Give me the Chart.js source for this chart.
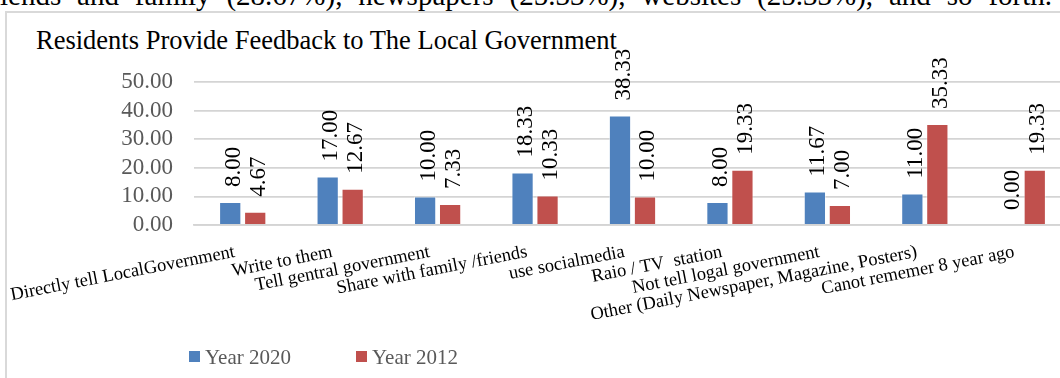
<!DOCTYPE html>
<html>
<head>
<meta charset="utf-8">
<title>Residents Provide Feedback to The Local Government</title>
<script src="https://cdn.jsdelivr.net/npm/chart.js@4.4.1/dist/chart.umd.min.js"></script>
<style>
  html, body { margin: 0; padding: 0; background: #fff; overflow: hidden; }
  body { width: 1060px; height: 378px; position: relative; font-family: "Liberation Serif", "Times New Roman", serif; }
  .para {
    position: absolute; left: 0; top: -19px; width: 1052px;
    font-size: 29px; line-height: 29px; white-space: nowrap;
    text-align: justify; text-align-last: justify; color: #000;
  }
  .frame {
    position: absolute; left: 5px; top: 11px; width: 1100px; height: 400px;
    border-top: 2px solid #d9d9d9; border-left: 2px solid #d9d9d9;
  }
  .title {
    position: absolute; left: 36px; top: 28px;
    font-size: 26.5px; line-height: 25px; color: #000; white-space: nowrap;
  }
  .wrap { position: absolute; left: 0; top: 0; width: 1075px; height: 378px; }
</style>
</head>
<body>
<div class="para">iends and family (28.67%), newspapers (25.33%), websites (25.33%), and so forth.</div>
<div class="frame"></div>
<div class="title">Residents Provide Feedback to The Local Government</div>
<div class="wrap"><canvas id="feedbackChart"></canvas></div>
<script>
const categories = [
    'Directly tell LocalGovernment',
    'Write to them',
    'Tell gentral government',
    'Share with family /friends',
    'use socialmedia',
    'Raio / TV  station',
    'Not tell logal government',
    'Other (Daily Newspaper, Magazine, Posters)',
    'Canot rememer 8 year ago'
];
const year2020 = [8.00, 17.00, 10.00, 18.33, 38.33, 8.00, 11.67, 11.00, 0.00];
const year2012 = [4.67, 12.67, 7.33, 10.33, 10.00, 19.33, 7.00, 35.33, 19.33];
const yMax = 50;
const yStep = 10;

const SERIF = '"Liberation Serif", "Times New Roman", serif';

// value written vertically above each bar
const barValueLabels = {
    id: 'barValueLabels',
    afterDatasetsDraw(chart) {
        const ctx = chart.ctx;
        ctx.save();
        ctx.font = '23px ' + SERIF;
        ctx.fillStyle = '#000';
        ctx.textAlign = 'left';
        ctx.textBaseline = 'alphabetic';
        chart.data.datasets.forEach((ds, i) => {
            chart.getDatasetMeta(i).data.forEach((bar, j) => {
                ctx.save();
                ctx.translate(bar.x, bar.y - 15);
                ctx.rotate(-Math.PI / 2);
                ctx.fillText(ds.data[j].toFixed(2), 0, 9.5);
                ctx.restore();
            });
        });
        ctx.restore();
    }
};

// legend under the plot, squares + series names
const bottomLegend = {
    id: 'bottomLegend',
    afterDraw(chart) {
        const ctx = chart.ctx;
        ctx.save();
        ctx.font = '21px ' + SERIF;
        ctx.textBaseline = 'alphabetic';
        ctx.textAlign = 'left';
        let x = 189;
        const y = 351;
        chart.data.datasets.forEach(ds => {
            ctx.fillStyle = ds.backgroundColor;
            ctx.fillRect(x, y, 11, 11);
            ctx.fillStyle = '#595959';
            ctx.fillText(ds.label, x + 16, y + 13);
            x += 167;
        });
        ctx.restore();
    }
};

const ctx = document.getElementById('feedbackChart').getContext('2d');

const feedbackChart = new Chart(ctx, {
    type: 'bar',
    data: {
        labels: categories,
        datasets: [{
            label: 'Year 2020',
            data: year2020,
            backgroundColor: '#4f81bd',
            borderColor: 'rgba(255,255,255,0.45)',
            borderWidth: 1,
            categoryPercentage: 0.513,
            barPercentage: 0.89
        }, {
            label: 'Year 2012',
            data: year2012,
            backgroundColor: '#c0504d',
            borderColor: 'rgba(255,255,255,0.45)',
            borderWidth: 1,
            categoryPercentage: 0.513,
            barPercentage: 0.89
        }]
    },
    options: {
        responsive: true,
        maintainAspectRatio: false,
        animation: false,
        layout: {
            padding: { top: 82, left: 0, right: 4, bottom: 0 }
        },
        scales: {
            y: {
                min: 0,
                max: yMax,
                afterFit: s => { s.width = 194; },
                ticks: {
                    stepSize: yStep,
                    autoSkip: false,
                    color: '#595959',
                    font: { family: SERIF, size: 23 },
                    padding: 21,
                    callback: v => Number(v).toFixed(2)
                },
                grid: {
                    color: '#d4d4d4',
                    lineWidth: 1.8,
                    drawTicks: false
                },
                border: { display: false }
            },
            x: {
                afterFit: s => { s.height = 153; s.paddingLeft = 0; s.paddingRight = 0; },
                ticks: {
                    color: '#000',
                    font: { family: SERIF, size: 18.5 },
                    minRotation: 11,
                    maxRotation: 11,
                    autoSkip: false,
                    labelOffset: -8,
                    padding: 16
                },
                grid: { display: false, drawTicks: false },
                border: { color: '#d4d4d4', width: 1.8 }
            }
        },
        plugins: {
            legend: { display: false },
            title: { display: false },
            tooltip: { enabled: false }
        }
    },
    plugins: [barValueLabels, bottomLegend]
});
</script>
</body>
</html>
